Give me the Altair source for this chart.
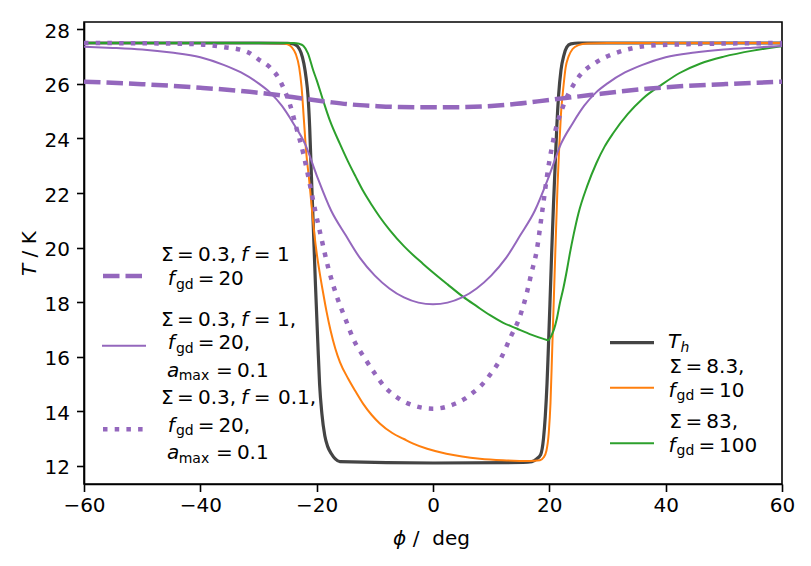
import altair as alt
import pandas as pd

# ---------------- temperature profiles T(phi) ----------------
# T_h
phi_th = [-60, -30, -25, -24, -23.3, -22.7, -22.2, -21.8, -21.5, -21.2, -20.9, -20.6, -20.2, -19.8,
          -19.5, -19.1, -18.6, -18.1, -17.5, -16.8, -16.0, 0, 15.5, 17.0, 17.8, 18.5, 19.0, 19.3,
          19.6, 19.8, 20.1, 20.4, 20.7, 21.0, 21.3, 21.6, 22.0, 22.5, 23.0, 23.7, 25, 60]
t_th = [27.5, 27.5, 27.49, 27.47, 27.38, 27.15, 26.75, 26.2, 25.6, 24.4, 22.6, 20.9, 18.6, 16.5,
        15.0, 13.9, 13.1, 12.7, 12.45, 12.25, 12.15, 12.1, 12.12, 12.15, 12.25, 12.4, 13.0, 13.8,
        15.0, 16.1, 17.9, 19.8, 21.5, 23.0, 24.5, 25.6, 26.5, 27.05, 27.35, 27.47, 27.5, 27.5]

# Sigma = 8.3, f_gd = 10
phi_or = [-60, -30, -26, -25, -24.3, -23.6, -23.0, -22.6, -22.2, -21.8, -21.3, -20.9, -20.4, -20.0,
          -19.5, -18.9, -18.3, -17.6, -16.8, -16.0, -14.6, -13.3, -12.0, -10.5, -9.15, -7.0, -5.0,
          -3.4, -1.0, 2.3, 5.0, 8.05, 12.0, 16.6, 18.4, 19.0, 19.5, 19.9, 20.2, 20.5, 20.8, 21.1,
          21.4, 21.7, 22.0, 22.4, 22.8, 23.3, 24.0, 25.0, 26.5, 30, 60]
t_or = [27.5, 27.5, 27.49, 27.45, 27.35, 27.1, 26.6, 25.9, 24.7, 23.5, 22.5, 21.6, 20.5, 19.8,
        19.1, 18.35, 17.65, 16.95, 16.3, 15.8, 15.2, 14.72, 14.27, 13.85, 13.55, 13.2, 12.98,
        12.81, 12.62, 12.44, 12.34, 12.26, 12.2, 12.17, 12.2, 12.3, 12.55, 13.2, 14.3, 16.3, 18.3,
        20.3, 22.2, 23.7, 24.9, 25.85, 26.6, 27.0, 27.28, 27.42, 27.48, 27.5, 27.5]

# Sigma = 83, f_gd = 100
phi_gr = [-60, -30, -24, -23, -22.3, -21.5, -20.6, -20.0, -18.9, -17.75, -16.0, -14.6, -13.3, -12.0,
          -10.5, -9.15, -7.4, -5.0, -1.7, 2.5, 5.2, 7.5, 9.8, 12.0, 14.4, 17.0, 19.0, 19.8, 20.3,
          20.8, 21.3, 21.8, 22.4, 23.0, 23.5, 24.2, 25.0, 26.5, 28.1, 29.5, 31.0, 33.5, 36.0, 39.5,
          42.4, 46.0, 50.0, 55.0, 60]
t_gr = [27.5, 27.5, 27.5, 27.47, 27.4, 27.12, 26.5, 26.14, 25.4, 24.67, 23.8, 23.15, 22.6, 22.07,
        21.55, 21.12, 20.63, 20.05, 19.4, 18.65, 18.19, 17.85, 17.52, 17.25, 17.03, 16.8, 16.65,
        16.6, 16.75, 17.0, 17.4, 17.95, 18.5, 19.15, 19.75, 20.5, 21.25, 22.25, 23.1, 23.7, 24.2,
        24.9, 25.45, 26.0, 26.4, 26.75, 27.0, 27.22, 27.38]

# Sigma = 0.3, f = 1, f_gd = 20
phi_da = [-60, -50, -40, -31.5, -27, -22, -18, -14.3, -10, -5.7, 0, 5.7, 10, 14.4, 18, 22.3, 27,
          32, 37.3, 43, 49.9, 60]
t_da = [26.08, 25.99, 25.86, 25.71, 25.6, 25.45, 25.34, 25.25, 25.19, 25.15, 25.14, 25.15, 25.19,
        25.27, 25.36, 25.47, 25.59, 25.72, 25.83, 25.92, 25.99, 26.08]

# Sigma = 0.3, f = 1, f_gd = 20, a_max = 0.1
phi_tn = [-60, -55, -50, -45, -40, -36, -33, -30, -28, -26, -24, -22, -20, -17.5, -15, -12.5, -10,
          -7.5, -5, -2.5, 0, 2.5, 5, 7.5, 10, 12.5, 15, 17.5, 20, 22, 24, 26, 28, 30, 33, 36, 40,
          45, 50, 55, 60]
t_tn = [27.36, 27.32, 27.26, 27.15, 26.98, 26.7, 26.42, 26.02, 25.68, 25.2, 24.55, 23.8, 22.65,
        21.35, 20.45, 19.6, 18.97, 18.5, 18.17, 17.98, 17.92, 17.98, 18.17, 18.5, 18.97, 19.6,
        20.45, 21.35, 22.65, 23.8, 24.55, 25.2, 25.68, 26.02, 26.42, 26.7, 26.98, 27.15, 27.26,
        27.33, 27.39]

# Sigma = 0.3, f = 0.1, f_gd = 20, a_max = 0.1
phi_dt = [-60, -45, -40, -36, -32, -30, -28, -26.5, -25.5, -24.6, -23.5, -22.3, -21.2, -20.2,
          -19.2, -18.0, -16.6, -15.0, -13.7, -11.7, -10.0, -8.3, -6.9, -5.4, -3.4, 0, 3.9, 5.5,
          7.0, 8.45, 9.65, 11.8, 13.3, 14.9, 16.1, 16.9, 17.8, 18.7, 19.8, 20.95, 22.4, 24.1, 25.2,
          28.1, 32.1, 36.7, 42.4, 50, 60]
t_dt = [27.5, 27.48, 27.45, 27.35, 27.18, 26.9, 26.6, 26.2, 25.75, 25.25, 24.4, 23.45, 22.35,
        21.3, 20.35, 19.25, 18.25, 17.35, 16.65, 15.93, 15.38, 14.89, 14.62, 14.40, 14.21, 14.09,
        14.28, 14.46, 14.70, 14.98, 15.29, 15.99, 16.70, 17.45, 18.31, 19.05, 19.85, 21.2, 22.9,
        24.2, 25.2, 25.95, 26.3, 26.8, 27.18, 27.39, 27.45, 27.48, 27.5]

x_ticks = [-60, -40, -20, 0, 20, 40, 60]
y_ticks = [12, 14, 16, 18, 20, 22, 24, 26, 28]

# ---------------- layout ----------------
X0, Y0, W, H = 84, 22, 698, 462          # plot area in the page (px)
PHI_DOM = (-60, 60)
T_DOM = (11.33, 28.27)
FONT = "DejaVu Sans"
FS, FS_SUB = 20, 14

PURPLE, ORANGE, GREEN, DARK = "#9467bd", "#ff7f0e", "#2ca02c", "#444444"
DASH, DOT = [16.5, 6], [4.5, 7.2]


def to_data(px, py):
    """Page pixel position -> (phi, T) in data units."""
    phi = PHI_DOM[0] + (px - X0) / W * (PHI_DOM[1] - PHI_DOM[0])
    t = T_DOM[1] - (py - Y0) / H * (T_DOM[1] - T_DOM[0])
    return phi, t


x_enc = alt.X("phi:Q", scale=alt.Scale(domain=list(PHI_DOM), nice=False, zero=False),
              axis=alt.Axis(values=x_ticks, title=None))
y_enc = alt.Y("T:Q", scale=alt.Scale(domain=list(T_DOM), nice=False, zero=False),
              axis=alt.Axis(values=y_ticks, title=None))


def curve(phi, t, color, width, dash=None):
    df = pd.DataFrame({"phi": phi, "T": t})
    kw = dict(color=color, strokeWidth=width, interpolate="monotone", clip=True, strokeCap="butt")
    if dash:
        kw["strokeDash"] = dash
    return alt.Chart(df).mark_line(**kw).encode(x=x_enc, y=y_enc)


curves = [
    curve(phi_th, t_th, DARK, 3.2),
    curve(phi_or, t_or, ORANGE, 2.0),
    curve(phi_gr, t_gr, GREEN, 2.0),
    curve(phi_da, t_da, PURPLE, 4.5, DASH),
    curve(phi_tn, t_tn, PURPLE, 2.0),
    curve(phi_dt, t_dt, PURPLE, 4.5, DOT),
]

# ---------------- legends: sample lines ----------------
handles = [
    # (x from, x to, y, colour, width, dash)
    (103, 146, 276.0, PURPLE, 4.5, DASH),
    (102, 146, 345.7, PURPLE, 2.0, None),
    (103, 146, 429.3, PURPLE, 4.5, DOT),
    (610, 654, 342.7, DARK, 3.2, None),
    (610, 654, 387.7, ORANGE, 2.0, None),
    (610, 654, 443.3, GREEN, 2.0, None),
]


def handle(xa, xb, yy, color, width, dash):
    pa, ty = to_data(xa, yy)
    pb, _ = to_data(xb, yy)
    df = pd.DataFrame({"phi": [pa], "phi2": [pb], "T": [ty]})
    kw = dict(color=color, strokeWidth=width, strokeCap="butt")
    if dash:
        kw["strokeDash"] = dash
    return alt.Chart(df).mark_rule(**kw).encode(x=x_enc, x2=alt.X2("phi2:Q"), y=y_enc)


# ---------------- legends and axis titles: text pieces ----------------
# (x, baseline y, text, style)  style: rm / it / sub / subit / rot / rotit
pieces = []


def sigma_line(x, y, sig, tail):
    pieces.extend([(x, y, "Σ", "rm"), (x + 16.2, y, "=", "rm"), (x + 37.1, y, sig, "rm")])
    if tail is not None:
        pieces.extend([(x + 80.2, y, "f", "it"), (x + 92.9, y, "=", "rm"), (x + tail[0], y, tail[1], "rm")])


def fgd_line(x, y, val):
    pieces.extend([(x, y, "f", "it"), (x + 8.2, y + 3.5, "gd", "sub"),
                   (x + 30.0, y, "=", "rm"), (x + 50.7, y, val, "rm")])


def amax_line(x, y, val):
    pieces.extend([(x, y, "a", "it"), (x + 11.8, y + 3.5, "max", "sub"),
                   (x + 49.0, y, "=", "rm"), (x + 70.0, y, val, "rm")])


sigma_line(160.9, 261.0, "0.3,", (116.2, "1"))
fgd_line(167.7, 285.0, "20")
sigma_line(160.9, 326.0, "0.3,", (116.2, "1,"))
fgd_line(167.7, 349.0, "20,")
amax_line(166.9, 376.7, "0.1")
sigma_line(160.9, 404.3, "0.3,", (117.1, "0.1,"))
fgd_line(167.7, 431.7, "20,")
amax_line(166.9, 459.3, "0.1")

pieces.extend([(668.0, 348.3, "T", "it"), (680.5, 352.3, "h", "subit")])
sigma_line(669.2, 373.3, "8.3,", None)
fgd_line(668.4, 396.7, "10")
sigma_line(669.2, 428.3, "83,", None)
fgd_line(668.4, 451.7, "100")

# axis titles
pieces.extend([(393.0, 545.0, "ϕ", "it"), (412.8, 545.0, "/", "rm"), (432.2, 545.0, "deg", "rm")])
pieces.extend([(35.5, 276.0, "T", "rotit"), (35.5, 257.4, "/ K", "rot")])

txt = pd.DataFrame(pieces, columns=["px", "py", "label", "style"])
txt["phi"], txt["T"] = to_data(txt["px"], txt["py"])

styles = {
    "rm": dict(fontSize=FS),
    "it": dict(fontSize=FS, fontStyle="italic"),
    "sub": dict(fontSize=FS_SUB),
    "subit": dict(fontSize=FS_SUB, fontStyle="italic"),
    "rot": dict(fontSize=FS, angle=270),
    "rotit": dict(fontSize=FS, fontStyle="italic", angle=270),
}

texts = []
for name, st in styles.items():
    sub = txt[txt["style"] == name][["phi", "T", "label"]]
    texts.append(
        alt.Chart(sub)
        .mark_text(align="left", baseline="alphabetic", font=FONT, color="black", **st)
        .encode(x=x_enc, y=y_enc, text="label:N")
    )

chart = (
    alt.layer(*curves, *[handle(*h) for h in handles], *texts)
    .properties(
        width=W,
        height=H,
        padding={"left": X0, "top": Y0, "right": 811 - X0 - W, "bottom": 566 - Y0 - H},
        autosize=alt.AutoSizeParams(type="none"),
        background="white",
    )
    .configure_view(stroke="black", strokeWidth=1.6)
    .configure_axis(
        domainColor="black", domainWidth=1.6, tickColor="black", tickWidth=1.6, tickSize=7.5,
        labelFont=FONT, labelFontSize=FS, labelColor="black", grid=False,
        labelFlush=False, labelOverlap=False,
    )
    .configure_axisX(labelBaseline="alphabetic", labelPadding=20)
    .configure_axisY(labelBaseline="alphabetic", labelOffset=8, labelPadding=7)
)

chart.save("out.html", embed_options={"renderer": "svg", "actions": False})
